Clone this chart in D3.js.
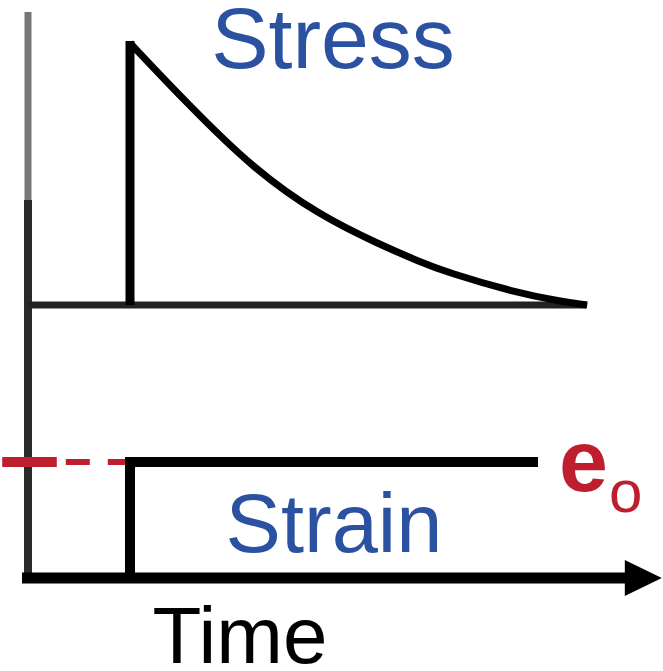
<!DOCTYPE html>
<html>
<head>
<meta charset="utf-8">
<script src="https://cdn.jsdelivr.net/npm/d3@7"></script>
<style>
  body { margin: 0; background: #fff; }
  text { font-family: "Liberation Sans", Arial, sans-serif; }
</style>
</head>
<body>
<div id="chart"></div>
<script>
// stress relaxation: strain held at e0, stress decays

// relaxation curve (time, normalised stress)
let stressTime  = [1.7, 2.65, 3.75, 4.87, 5.87, 6.53, 6.98, 8.08, 8.92, 9.32];
let stressValue = [1.0, 0.77, 0.52, 0.34, 0.23, 0.165, 0.125, 0.05, 0.012, 0];

let stepTime = 1.7;      // moment strain is applied
let strainEnd = 8.5;     // where the strain line stops
let stressEnd = 9.3;     // end of stress baseline
let axisEnd = 9.98;      // arrow base of time axis

let labels = { stress: "Stress", strain: "Strain", time: "Time", e: "e", sub: "o" };

let width = 663, height = 671;
let blue = "#2b51a1", red = "#be1e2d";

let svg = d3.select("#chart").append("svg")
  .attr("width", width).attr("height", height);

let xScale = d3.scaleLinear().domain([0, 10]).range([28, 628]);
let yStress = d3.scaleLinear().domain([0, 1]).range([305, 43]);
let yStrain = d3.scaleLinear().domain([0, 1]).range([578, 462]);

// left vertical axis (lighter at the top, like the scan)
svg.append("line")
  .attr("x1", xScale(0)).attr("x2", xScale(0))
  .attr("y1", yStress(1.118)).attr("y2", 200)
  .attr("stroke", "#777").attr("stroke-width", 7);
svg.append("line")
  .attr("x1", xScale(0)).attr("x2", xScale(0))
  .attr("y1", 200).attr("y2", yStrain(0))
  .attr("stroke", "#2a2a2a").attr("stroke-width", 8);

// stress baseline
svg.append("line")
  .attr("x1", xScale(0)).attr("x2", xScale(stressEnd))
  .attr("y1", yStress(0)).attr("y2", yStress(0))
  .attr("stroke", "#222").attr("stroke-width", 7);

// stress jump
svg.append("line")
  .attr("x1", xScale(stepTime)).attr("x2", xScale(stepTime))
  .attr("y1", yStress(0)).attr("y2", yStress(1) - 2)
  .attr("stroke", "#000").attr("stroke-width", 9);

// relaxation curve
let stressLine = d3.line()
  .x((d, i) => xScale(stressTime[i]))
  .y(d => yStress(d))
  .curve(d3.curveBasis);

svg.append("path")
  .attr("d", stressLine(stressValue))
  .attr("fill", "none")
  .attr("stroke", "#000")
  .attr("stroke-width", 7)
  .attr("stroke-linejoin", "round");

// red dashed e0 level
svg.append("line")
  .attr("x1", xScale(-0.43)).attr("x2", xScale(0.48))
  .attr("y1", yStrain(1)).attr("y2", yStrain(1))
  .attr("stroke", red).attr("stroke-width", 10);
svg.append("line")
  .attr("x1", xScale(0.63)).attr("x2", xScale(stepTime))
  .attr("y1", yStrain(1)).attr("y2", yStrain(1))
  .attr("stroke", red).attr("stroke-width", 6)
  .attr("stroke-dasharray", "24,18");

// strain step
svg.append("line")
  .attr("x1", xScale(stepTime)).attr("x2", xScale(stepTime))
  .attr("y1", yStrain(0)).attr("y2", yStrain(1) - 5)
  .attr("stroke", "#000").attr("stroke-width", 10);
svg.append("line")
  .attr("x1", xScale(stepTime) - 5).attr("x2", xScale(strainEnd))
  .attr("y1", yStrain(1)).attr("y2", yStrain(1))
  .attr("stroke", "#000").attr("stroke-width", 10);

// time axis with arrow
svg.append("line")
  .attr("x1", xScale(-0.1)).attr("x2", xScale(axisEnd))
  .attr("y1", yStrain(0)).attr("y2", yStrain(0))
  .attr("stroke", "#000").attr("stroke-width", 11);
let ax = xScale(axisEnd), ay = yStrain(0);
svg.append("path")
  .attr("d", `M${ax - 2},${ay - 18} L${ax + 35},${ay} L${ax - 2},${ay + 18} Z`)
  .attr("fill", "#000");

// labels
svg.append("text")
  .attr("x", 333).attr("y", 68)
  .attr("text-anchor", "middle")
  .attr("font-size", 86).attr("fill", blue)
  .text(labels.stress);

svg.append("text")
  .attr("x", 334).attr("y", 552)
  .attr("text-anchor", "middle")
  .attr("font-size", 83).attr("fill", blue)
  .text(labels.strain);

svg.append("text")
  .attr("x", 240).attr("y", 663)
  .attr("text-anchor", "middle")
  .attr("font-size", 80).attr("fill", "#000")
  .text(labels.time);

svg.append("text")
  .attr("x", 559).attr("y", 491)
  .attr("font-size", 88).attr("font-weight", "bold").attr("fill", red)
  .text(labels.e);
svg.append("text")
  .attr("x", 609).attr("y", 512)
  .attr("font-size", 60).attr("fill", red)
  .text(labels.sub);
</script>
</body>
</html>
